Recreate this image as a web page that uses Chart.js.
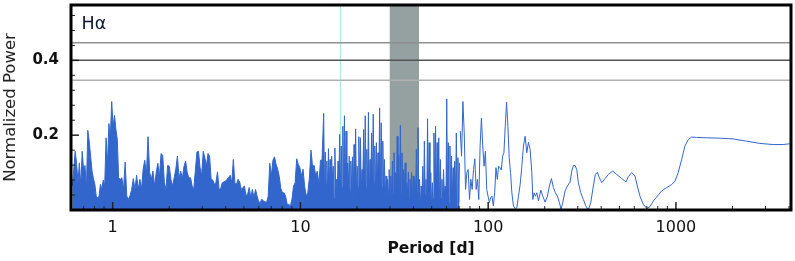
<!DOCTYPE html>
<html>
<head>
<meta charset="utf-8">
<script src="https://cdn.jsdelivr.net/npm/chart.js@4.4.1/dist/chart.umd.min.js"></script>
<style>
  html, body { margin: 0; padding: 0; background: #fff; }
  canvas { display: block; }
</style>
</head>
<body>
<canvas id="grafico" width="795" height="261"></canvas>
<script>
// Ejes
const rangoPeriodo = [0.605, 4100];
const rangoPotencia = [0, 0.548];
const ticksPeriodoMayores = [1, 10, 100, 1000];
const ticksPeriodoMenores = [0.7, 0.8, 0.9, 2, 3, 4, 5, 6, 7, 8, 9, 20, 30, 40, 50, 60, 70, 80, 90,
  200, 300, 400, 500, 600, 700, 800, 900, 2000, 3000, 4000];
const ticksPotenciaMayores = [0, 0.2, 0.4];
const ticksPotenciaMenores = [0.04, 0.08, 0.12, 0.16, 0.24, 0.28, 0.32, 0.36, 0.44, 0.48, 0.52];

// Niveles de falsa alarma, marca vertical y banda sombreada
const nivelesFap = [0.447, 0.4, 0.347];
const periodoMarca = 16.2;
const bandaPeriodos = [29.9, 42.8];

// Parte densa del periodograma: muestras leidas a paso constante en log(periodo)
const rangoA1 = [0.610, 1.059];
const potenciaA1 = [0.064, 0.109, 0.157, 0.126, 0.073, 0.126, 0.064, 0.157, 0.109, 0.119, 0.055,
  0.213, 0.184, 0.144, 0.104, 0.084, 0.069, 0.037, 0.033, 0.037, 0.069, 0.055, 0.080, 0.064,
  0.193, 0.122, 0.231, 0.193, 0.290, 0.224, 0.253, 0.215, 0.188];

const rangoA2 = [1.076, 2.546];
const potenciaA2 = [0.086, 0.082, 0.086, 0.055, 0.128, 0.037, 0.029, 0.039, 0.055, 0.084, 0.055,
  0.093, 0.055, 0.082, 0.055, 0.109, 0.133, 0.095, 0.196, 0.100, 0.082, 0.104, 0.064, 0.100,
  0.125, 0.091, 0.151, 0.146, 0.073, 0.055, 0.119, 0.117, 0.082, 0.064, 0.086, 0.109, 0.144,
  0.084, 0.104, 0.084, 0.116, 0.131, 0.100, 0.086];

const rangoB = [2.60, 13.04];
const potenciaB = [0.086, 0.064, 0.055, 0.104, 0.155, 0.157, 0.113, 0.093, 0.157, 0.140,
  0.117, 0.151, 0.144, 0.082, 0.080, 0.069, 0.073, 0.102, 0.055, 0.057,
  0.073, 0.075, 0.077, 0.082, 0.086, 0.093, 0.073, 0.135, 0.071, 0.069,
  0.082, 0.075, 0.055, 0.060, 0.064, 0.039, 0.042, 0.060, 0.033, 0.055,
  0.033, 0.055, 0.037, 0.022, 0.020, 0.029, 0.024, 0.022, 0.020, 0.037,
  0.125, 0.091, 0.133, 0.142, 0.122, 0.109, 0.089, 0.057, 0.046, 0.046,
  0.037, 0.015, 0.015, 0.011, 0.029, 0.064, 0.073, 0.137, 0.122, 0.113,
  0.091, 0.109, 0.064, 0.037, 0.046, 0.086, 0.160, 0.117, 0.119, 0.091,
  0.104, 0.069, 0.133, 0.133];

const rangoC = [13.30, 70.37];
const picosC = [0.258, 0.155, 0.131, 0.164, 0.135, 0.144, 0.117, 0.166, 0.082, 0.131, 0.202, 0.171, 0.224,
  0.252, 0.211, 0.126, 0.144, 0.131, 0.142, 0.175, 0.217, 0.117, 0.196, 0.193, 0.108, 0.215, 0.252,
  0.162, 0.261, 0.135, 0.206, 0.256, 0.171, 0.180, 0.153, 0.273, 0.233,
  0.184, 0.135, 0.091, 0.082, 0.108, 0.091, 0.131, 0.153, 0.100, 0.197, 0.148, 0.226, 0.153, 0.108,
  0.126, 0.073, 0.101, 0.082, 0.100, 0.091, 0.082, 0.162,
  0.220, 0.082, 0.064, 0.117, 0.184, 0.082, 0.244,
  0.180, 0.100, 0.073, 0.206, 0.224, 0.180, 0.193, 0.135, 0.082, 0.108, 0.064, 0.297, 0.180, 0.171,
  0.144, 0.113, 0.131, 0.206, 0.140, 0.126];
const vallesC = [0.05, 0.07, 0.04, 0.06, 0.05, 0.08, 0.03, 0.06, 0.05, 0.07, 0.04, 0.06, 0.05,
  0.06, 0.04, 0.07, 0.05, 0.06, 0.03, 0.07, 0.05, 0.06, 0.04, 0.05, 0.07, 0.04, 0.06, 0.05, 0.03,
  0.06, 0.05, 0.07, 0.04, 0.06, 0.05, 0.04, 0.06,
  0.05, 0.03, 0.04, 0.02, 0.05, 0.03, 0.04, 0.06, 0.03, 0.05, 0.02, 0.04, 0.03, 0.05, 0.02, 0.04,
  0.03, 0.05, 0.02, 0.04, 0.03, 0.05,
  0.02, 0.01, 0.03, 0.02, 0.04, 0.01, 0.03, 0.02, 0.01, 0.03, 0.02, 0.04, 0.02, 0.01, 0.03, 0.02,
  0.04, 0.01, 0.03, 0.02, 0.01, 0.03, 0.02, 0.04, 0.01, 0.02];

const rangoD = [71.0, 133.7];
const potenciaD = [0.211, 0.144, 0.290, 0.206, 0.055, 0.100, 0.108, 0.028, 0.082, 0.055,
  0.108, 0.137, 0.055, 0.082, 0.028, 0.171, 0.246, 0.171, 0.117, 0.157,
  0.055, 0.037, 0.020, 0.033, 0.037, 0.011, 0.046, 0.113, 0.082, 0.117,
  0.113, 0.107, 0.144, 0.153, 0.224, 0.288, 0.224, 0.140, 0.100, 0.046];

// Cola suave (periodos largos)
const periodosCola = [136.3, 139.2, 142.1, 145.0, 148.0, 151.1, 154.1, 157.3, 160.6, 163.8,
  167.3, 170.8, 172.9, 175.7, 178.5, 181.6, 185.2, 190.7, 195.4, 201.0,
  206.8, 211.9, 217.2, 222.5, 228.0, 233.7, 239.4, 244.5, 249.6, 256.8,
  264.1, 273.1, 278.7, 284.3, 290.3, 296.4, 302.3, 311.3, 321.4, 330.9,
  341.6, 351.8, 363.2, 372.2, 381.4, 390.9, 402.6, 419.2, 436.5, 460.7,
  483.8, 514.3, 542.0, 557.6, 581.4, 605.3, 622.6, 643.5, 670.1, 698.5,
  727.4, 757.5, 795.5, 839.5, 892.5, 948.7, 987.9, 1028.5, 1072.3, 1116.7,
  1162.6, 1212.1, 1288.6, 1456.8, 1714, 2017, 2377, 2797, 3293, 3722, 4041];
const potenciaCola = [0.011, 0.004, 0.006, 0.037, 0.068, 0.117, 0.171, 0.197, 0.153, 0.181,
  0.162, 0.100, 0.028, 0.046, 0.037, 0.046, 0.024, 0.053, 0.037, 0.021,
  0.037, 0.064, 0.084, 0.060, 0.046, 0.037, 0.020, 0.002, 0.020, 0.051,
  0.064, 0.075, 0.104, 0.119, 0.119, 0.108, 0.073, 0.046, 0.028, 0.011,
  0.000, 0.020, 0.064, 0.095, 0.101, 0.086, 0.073, 0.084, 0.095, 0.104,
  0.095, 0.084, 0.075, 0.089, 0.100, 0.091, 0.064, 0.037, 0.015, 0.004,
  0.009, 0.024, 0.037, 0.051, 0.060, 0.068, 0.077, 0.100, 0.135, 0.171,
  0.188, 0.195, 0.194, 0.193, 0.192, 0.190, 0.184, 0.178, 0.175, 0.175, 0.177];

const azul = '#3366cc';
const coloresNivel = ['#8f8f8f', '#555555', '#b0b0b0'];

// Reparte las muestras de un tramo a paso constante en log(periodo)
function muestras(rango, valores) {
    const a = Math.log10(rango[0]);
    const b = Math.log10(rango[1]);
    return valores.map((v, i) => ({ x: Math.pow(10, a + (b - a) * i / (valores.length - 1)), y: v }));
}

// Intercalamos picos y valles del tramo C
const potenciaC = [];
picosC.forEach((p, i) => {
    potenciaC.push(p);
    if (i < vallesC.length) potenciaC.push(vallesC[i]);
});

const lineaDensa = [
    ...muestras(rangoA1, potenciaA1),
    ...muestras(rangoA2, potenciaA2),
    ...muestras(rangoB, potenciaB),
    ...muestras(rangoC, potenciaC)
];
const lineaResto = [
    ...muestras(rangoD, potenciaD),
    ...periodosCola.map((p, i) => ({ x: p, y: potenciaCola[i] }))
];

const marcoPlugin = {
    id: 'marco',
    beforeDatasetsDraw(chart) {
        const { ctx, chartArea: a, scales: { x } } = chart;
        ctx.save();
        // Banda sombreada
        const x0 = x.getPixelForValue(bandaPeriodos[0]);
        const x1 = x.getPixelForValue(bandaPeriodos[1]);
        ctx.fillStyle = '#95a0a0';
        ctx.fillRect(x0, a.top, x1 - x0, a.bottom - a.top);
        // Marca vertical
        const xm = Math.round(x.getPixelForValue(periodoMarca)) + 0.5;
        ctx.strokeStyle = '#a6efd2';
        ctx.lineWidth = 1;
        ctx.beginPath();
        ctx.moveTo(xm, a.top);
        ctx.lineTo(xm, a.bottom);
        ctx.stroke();
        ctx.restore();
    },
    afterDraw(chart) {
        const { ctx, chartArea: a, scales: { x, y } } = chart;
        ctx.save();
        // Ticks hacia adentro
        ctx.strokeStyle = '#222';
        const dibujarTick = (x1, y1, x2, y2, ancho) => {
            ctx.lineWidth = ancho;
            ctx.beginPath();
            ctx.moveTo(x1, y1);
            ctx.lineTo(x2, y2);
            ctx.stroke();
        };
        ticksPeriodoMayores.forEach(v => {
            const px = x.getPixelForValue(v);
            dibujarTick(px, a.bottom, px, a.bottom - 8, 1.5);
        });
        ticksPeriodoMenores.forEach(v => {
            const px = x.getPixelForValue(v);
            dibujarTick(px, a.bottom, px, a.bottom - 4, 1);
        });
        ticksPotenciaMayores.forEach(v => {
            const py = y.getPixelForValue(v);
            dibujarTick(a.left, py, a.left + 8, py, 1.5);
        });
        ticksPotenciaMenores.forEach(v => {
            const py = y.getPixelForValue(v);
            dibujarTick(a.left, py, a.left + 4, py, 1);
        });

        // Marco negro
        ctx.strokeStyle = '#000';
        ctx.lineWidth = 3;
        ctx.strokeRect(a.left, a.top, a.right - a.left, a.bottom - a.top);

        // Titulos
        ctx.fillStyle = '#0d1530';
        ctx.font = '17.5px "DejaVu Sans"';
        ctx.textAlign = 'left';
        ctx.textBaseline = 'alphabetic';
        ctx.fillText('H\u03b1', a.left + 10.5, a.top + 23.5);

        ctx.fillStyle = '#111';
        ctx.font = 'bold 15.5px "DejaVu Sans"';
        ctx.textAlign = 'center';
        ctx.fillText('Period [d]', (a.left + a.right) / 2, 252.5);

        ctx.fillStyle = '#222';
        ctx.font = '16.5px "DejaVu Sans"';
        ctx.translate(15, (a.top + a.bottom) / 2);
        ctx.rotate(-Math.PI / 2);
        ctx.fillText('Normalized Power', 0, 0);
        ctx.restore();
    }
};

new Chart(document.getElementById('grafico'), {
    type: 'line',
    data: {
        datasets: [
            {
                data: lineaDensa,
                borderColor: azul,
                backgroundColor: azul,
                borderWidth: 1,
                fill: 'origin',
                pointRadius: 0,
                tension: 0,
                order: 0
            },
            {
                data: lineaResto,
                borderColor: azul,
                borderWidth: 1,
                fill: false,
                pointRadius: 0,
                tension: 0,
                order: 0
            },
            ...nivelesFap.map((v, i) => ({
                data: [{ x: rangoPeriodo[0], y: v }, { x: rangoPeriodo[1], y: v }],
                borderColor: coloresNivel[i],
                borderWidth: 1.5,
                fill: false,
                pointRadius: 0,
                order: 1
            }))
        ]
    },
    options: {
        responsive: false,
        animation: false,
        events: [],
        layout: { padding: { top: 5, right: 4, left: 0, bottom: 0 } },
        plugins: {
            legend: { display: false },
            tooltip: { enabled: false }
        },
        scales: {
            x: {
                type: 'logarithmic',
                min: rangoPeriodo[0],
                max: rangoPeriodo[1],
                afterFit: escala => {
                    escala.height = 51;
                    escala.paddingLeft = 0;
                    escala.paddingRight = 0;
                },
                afterBuildTicks: escala => {
                    escala.ticks = [...ticksPeriodoMayores, ...ticksPeriodoMenores]
                        .sort((p, q) => p - q)
                        .map(v => ({ value: v }));
                },
                grid: { display: false, drawTicks: false },
                border: { display: false },
                ticks: {
                    autoSkip: false,
                    maxRotation: 0,
                    padding: 8,
                    color: '#111',
                    font: { family: 'DejaVu Sans', size: 16 },
                    callback: v => ticksPeriodoMayores.includes(v) ? String(v) : ''
                }
            },
            y: {
                min: rangoPotencia[0],
                max: rangoPotencia[1],
                afterFit: escala => {
                    escala.width = 71;
                    escala.paddingTop = 0;
                    escala.paddingBottom = 0;
                },
                afterBuildTicks: escala => {
                    escala.ticks = [...ticksPotenciaMayores, ...ticksPotenciaMenores]
                        .sort((p, q) => p - q)
                        .map(v => ({ value: v }));
                },
                grid: { display: false, drawTicks: false },
                border: { display: false },
                ticks: {
                    autoSkip: false,
                    padding: 12,
                    color: '#111',
                    font: { family: 'DejaVu Sans', size: 15, weight: 'bold' },
                    callback: v => (v > 0 && ticksPotenciaMayores.includes(v)) ? v.toFixed(1) : ''
                }
            }
        }
    },
    plugins: [marcoPlugin]
});
</script>
</body>
</html>
